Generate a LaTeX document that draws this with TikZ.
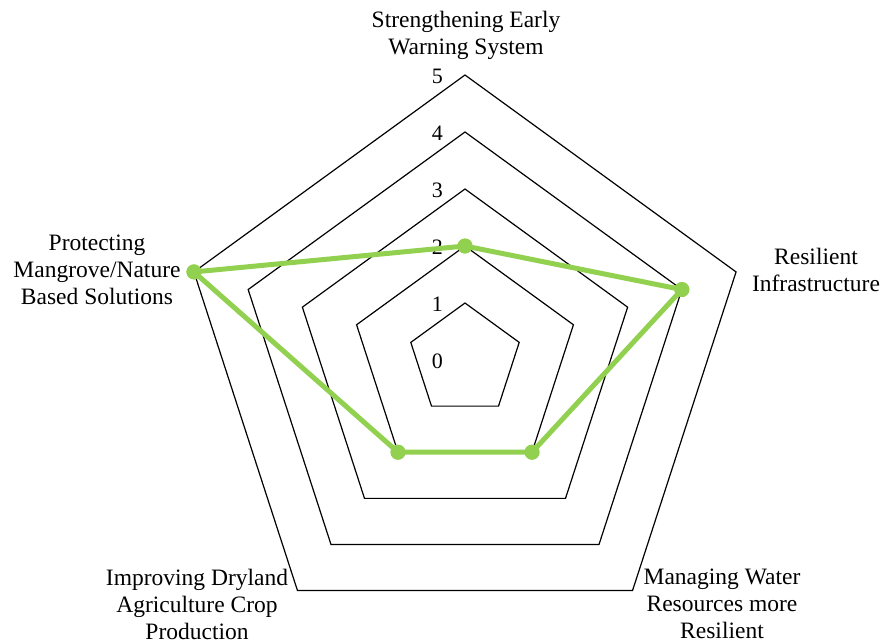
\documentclass[tikz,border=0pt]{standalone}
\usepackage{fontspec}
\setmainfont{Liberation Serif}
\usetikzlibrary{calc}
\definecolor{datagreen}{HTML}{92D050}
\begin{document}
\begin{tikzpicture}[x=1pt,y=-1pt,
  grid/.style={draw=black,line width=1.2pt,line join=miter},
  axlabel/.style={align=center,font=\fontsize{23.5}{27}\selectfont,inner sep=0pt},
  lvl/.style={anchor=east,font=\fontsize{22}{24}\selectfont,inner sep=0pt},
  series/.style={draw=datagreen,line width=5pt,line join=round},
  dot/.style={circle,fill=datagreen,minimum size=15pt,inner sep=0pt}]
\useasboundingbox (0,0) rectangle (880,640);
% grid pentagons, levels 1..5, step 57
\foreach \r in {1,...,5}{
  \draw[grid] ({465+57*\r*cos(90)},{360-57*\r*sin(90)})
    -- ({465+57*\r*cos(18)},{360-57*\r*sin(18)})
    -- ({465+57*\r*cos(-54)},{360-57*\r*sin(-54)})
    -- ({465+57*\r*cos(-126)},{360-57*\r*sin(-126)})
    -- ({465+57*\r*cos(162)},{360-57*\r*sin(162)}) -- cycle;
}
% level numbers
\foreach \r in {0,...,5}{
  \node[lvl] (l\r) at (443,{361-57*\r}) {\r};
}
% data points
\node[dot] (p1) at ({465+114*cos(90)},{360-114*sin(90)}) {};
\node[dot] (p2) at ({465+228*cos(18)},{360-228*sin(18)}) {};
\node[dot] (p3) at ({465+114*cos(-54)},{360-114*sin(-54)}) {};
\node[dot] (p4) at ({465+114*cos(-126)},{360-114*sin(-126)}) {};
\node[dot] (p5) at ({465+285*cos(162)},{360-285*sin(162)}) {};
\draw[series] (p1.center) -- (p2.center) -- (p3.center) -- (p4.center) -- (p5.center) -- cycle;
\foreach \i in {1,...,5}{\fill[datagreen] (p\i) circle (7.5pt);}
% axis labels
\node[axlabel] (t1) at (466,35) {Strengthening Early\\Warning System};
\node[axlabel] (t2) at (816,270) {Resilient\\Infrastructure};
\node[axlabel] (t5) at (97,270) {Protecting\\Mangrove/Nature\\Based Solutions};
\node[axlabel] (t4) at (197,604) {Improving Dryland\\Agriculture Crop\\Production};
\node[axlabel] (t6) at (722,604) {Managing Water\\Resources more\\Resilient};
\end{tikzpicture}
\end{document}
